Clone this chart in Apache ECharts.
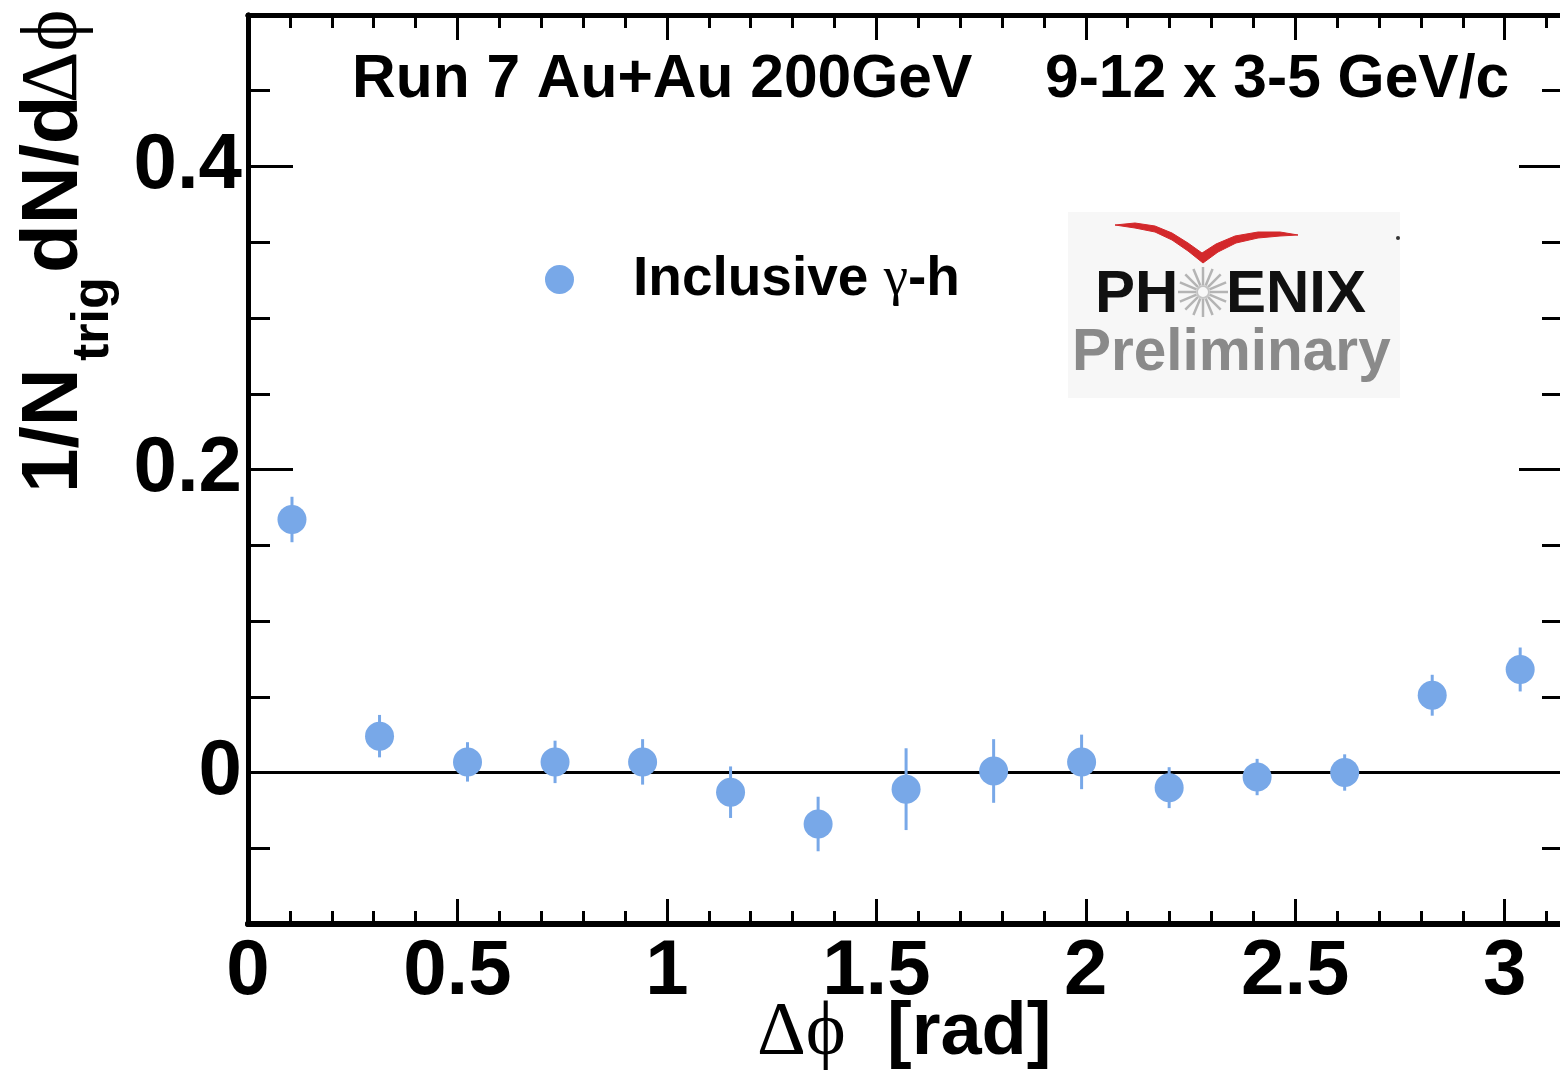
<!DOCTYPE html>
<html>
<head>
<meta charset="utf-8">
<script src="https://cdn.jsdelivr.net/npm/echarts@6/dist/echarts.min.js"></script>
<style>
  html, body { margin: 0; padding: 0; background: #ffffff; }
  #chart { width: 1560px; height: 1074px; }
</style>
</head>
<body>
<div id="chart"></div>
<script>
// Inclusive photon-hadron azimuthal correlation, Au+Au 200 GeV (Run 7)
const dPhi = [0.105, 0.314, 0.524, 0.733, 0.942, 1.152, 1.361, 1.571, 1.780, 1.990, 2.199, 2.409, 2.618, 2.827, 3.037];
const yield1 = [0.167, 0.024, 0.007, 0.007, 0.007, -0.013, -0.034, -0.011, 0.001, 0.007, -0.010, -0.003, 0.000, 0.051, 0.068];
const yieldErr = [0.015, 0.014, 0.013, 0.014, 0.015, 0.017, 0.018, 0.027, 0.021, 0.018, 0.0135, 0.012, 0.012, 0.0135, 0.0145];

const xRange = [0, 3.1416];
const yRange = [-0.1, 0.5];
const xMajorTicks = [0, 0.5, 1, 1.5, 2, 2.5, 3];
const xMinorTicks = [0.1, 0.2, 0.3, 0.4, 0.6, 0.7, 0.8, 0.9, 1.1, 1.2, 1.3, 1.4, 1.6, 1.7, 1.8, 1.9,
                     2.1, 2.2, 2.3, 2.4, 2.6, 2.7, 2.8, 2.9, 3.1];
const yMajorTicks = [0, 0.2, 0.4];
const yMinorTicks = [-0.05, 0.05, 0.1, 0.15, 0.25, 0.3, 0.35, 0.45];

const seriesName = 'Inclusive γ-h';
const headerLeft = 'Run 7 Au+Au 200GeV';
const headerRight = '9-12 x 3-5 GeV/c';

const pointColor = '#78a8e8';
const SANS = '"Liberation Sans", Arial, Helvetica, sans-serif';
const SERIF = '"Liberation Serif", "DejaVu Serif", serif';

const points = dPhi.map((x, i) => [x, yield1[i]]);
const bars = dPhi.map((x, i) => [x, yield1[i], yieldErr[i]]);

function fmt(v) { return String(v); }

function xAxisDef(position, ticks, len, lineWidth, labels) {
  return {
    type: 'value', position: position, min: xRange[0], max: xRange[1],
    axisLine: { show: true, onZero: false, lineStyle: { color: '#000', width: lineWidth } },
    axisTick: { show: true, inside: true, length: len, customValues: ticks, lineStyle: { color: '#000', width: 3 } },
    axisLabel: labels ? {
      show: true, customValues: xMajorTicks, margin: 9, formatter: fmt,
      fontFamily: SANS, fontWeight: 'bold', fontSize: 78, color: '#000'
    } : { show: false },
    splitLine: { show: false }
  };
}

function yAxisDef(position, ticks, len, lineWidth, labels) {
  return {
    type: 'value', position: position, min: yRange[0], max: yRange[1],
    axisLine: { show: true, onZero: false, lineStyle: { color: '#000', width: lineWidth } },
    axisTick: { show: true, inside: true, length: len, customValues: ticks, lineStyle: { color: '#000', width: 3 } },
    axisLabel: labels ? {
      show: true, customValues: yMajorTicks, margin: 6, formatter: fmt,
      fontFamily: SANS, fontWeight: 'bold', fontSize: 78, color: '#000'
    } : { show: false },
    splitLine: { show: false }
  };
}

function txt(x, y, text, size, opts) {
  opts = opts || {};
  return {
    type: 'text', x: x, y: y, z: 100,
    style: {
      text: text,
      fontFamily: opts.family || SANS,
      fontWeight: opts.weight || 'bold',
      fontSize: size,
      fill: opts.fill || '#000',
      align: opts.align || 'left', textAlign: opts.align || 'left',
      verticalAlign: 'middle', textVerticalAlign: 'middle'
    }
  };
}

// starburst rays of the logo
const burst = [];
for (let k = 0; k < 16; k++) {
  const a = k * Math.PI / 8;
  burst.push({
    type: 'line', z: 60,
    shape: { x1: 1203 + 7 * Math.cos(a), y1: 292 + 7 * Math.sin(a), x2: 1203 + 25 * Math.cos(a), y2: 292 + 25 * Math.sin(a) },
    style: { stroke: '#b4b4b4', lineWidth: 2.5 }
  });
}

// red swoosh above the logo lettering
const swoosh = [
  [1115, 225], [1135, 223], [1155, 226], [1172, 233], [1188, 243], [1202, 253],
  [1216, 244], [1235, 236], [1258, 232], [1280, 232], [1298, 235],
  [1280, 236], [1258, 238], [1236, 243], [1218, 252], [1203, 263],
  [1188, 251], [1172, 240], [1155, 232], [1135, 228]
];

const chart = echarts.init(document.getElementById('chart'), null, { renderer: 'canvas' });

chart.setOption({
  animation: false,
  backgroundColor: '#ffffff',
  grid: { left: 248, right: -4, top: 15, bottom: 150, outerBoundsMode: 'none', containLabel: false },
  xAxis: [
    xAxisDef('bottom', xMajorTicks, 25, 6, true),
    xAxisDef('bottom', xMinorTicks, 13, 6, false),
    xAxisDef('top', xMajorTicks, 25, 5, false),
    xAxisDef('top', xMinorTicks, 13, 5, false)
  ],
  yAxis: [
    yAxisDef('left', yMajorTicks, 45, 5, true),
    yAxisDef('left', yMinorTicks, 22, 5, false),
    yAxisDef('right', yMajorTicks, 45, 5, false),
    yAxisDef('right', yMinorTicks, 22, 5, false)
  ],
  legend: {
    left: 540, top: 247,
    icon: 'circle', itemWidth: 29, itemHeight: 29,
    data: [seriesName],
    formatter: () => '{a|Inclusive }{g|γ}{a|-h}',
    textStyle: {
      padding: [0, 0, 0, 54],
      rich: {
        a: { fontFamily: SANS, fontWeight: 'bold', fontSize: 55, color: '#000' },
        g: { fontFamily: SERIF, fontWeight: 'normal', fontSize: 55, color: '#000' }
      }
    }
  },
  series: [
    {
      name: 'errors',
      type: 'custom',
      xAxisIndex: 0, yAxisIndex: 0,
      z: 2,
      data: bars,
      encode: { x: 0, y: 1 },
      renderItem: function (params, api) {
        const x = api.value(0), y = api.value(1), e = api.value(2);
        const p1 = api.coord([x, y - e]);
        const p2 = api.coord([x, y + e]);
        return {
          type: 'line',
          shape: { x1: p1[0], y1: p1[1], x2: p2[0], y2: p2[1] },
          style: { stroke: pointColor, lineWidth: 3 }
        };
      },
      markLine: {
        silent: true, symbol: 'none', z: 1,
        label: { show: false },
        lineStyle: { color: '#000', width: 3, type: 'solid' },
        data: [{ yAxis: 0 }]
      }
    },
    {
      name: seriesName,
      type: 'scatter',
      xAxisIndex: 0, yAxisIndex: 0,
      z: 3,
      symbol: 'circle',
      symbolSize: 29,
      itemStyle: { color: pointColor, opacity: 1 },
      data: points
    }
  ],
  graphic: [
    // header
    txt(352, 80, headerLeft, 60.5),
    txt(1045, 80, headerRight, 60.5),
    // x-axis title
    txt(757, 1034, 'Δϕ', 76, { family: SERIF, weight: 'normal' }),
    txt(887, 1034, '[rad]', 74),
    // y-axis title, rotated to read bottom-to-top
    {
      type: 'group', x: 82, y: 493, rotation: Math.PI / 2,
      children: [
        txt(0, -27, '1/N', 80),
        txt(132, 12, 'trig', 52),
        txt(220, -27, 'dN/d', 80),
        txt(390, -27, 'Δϕ', 80, { family: SERIF, weight: 'normal' })
      ]
    },
    // PHENIX Preliminary logo
    { type: 'rect', z: 50, shape: { x: 1068, y: 212, width: 332, height: 186 }, style: { fill: '#f7f7f7' } },
    { type: 'polygon', z: 60, shape: { points: swoosh }, style: { fill: '#d3282b', stroke: '#d3282b', lineWidth: 1 } },
    { type: 'circle', z: 60, shape: { cx: 1398, cy: 238, r: 2 }, style: { fill: '#333' } },
    ...burst,
    { type: 'circle', z: 60, shape: { cx: 1203, cy: 292, r: 6 }, style: { fill: 'none', stroke: '#c4c4c4', lineWidth: 2 } },
    txt(1095, 295, 'PH', 60, { fill: '#111' }),
    txt(1226, 295, 'ENIX', 60, { fill: '#111' }),
    txt(1072, 354, 'Preliminary', 58.5, { fill: '#8a8a8a' })
  ]
});
</script>
</body>
</html>
